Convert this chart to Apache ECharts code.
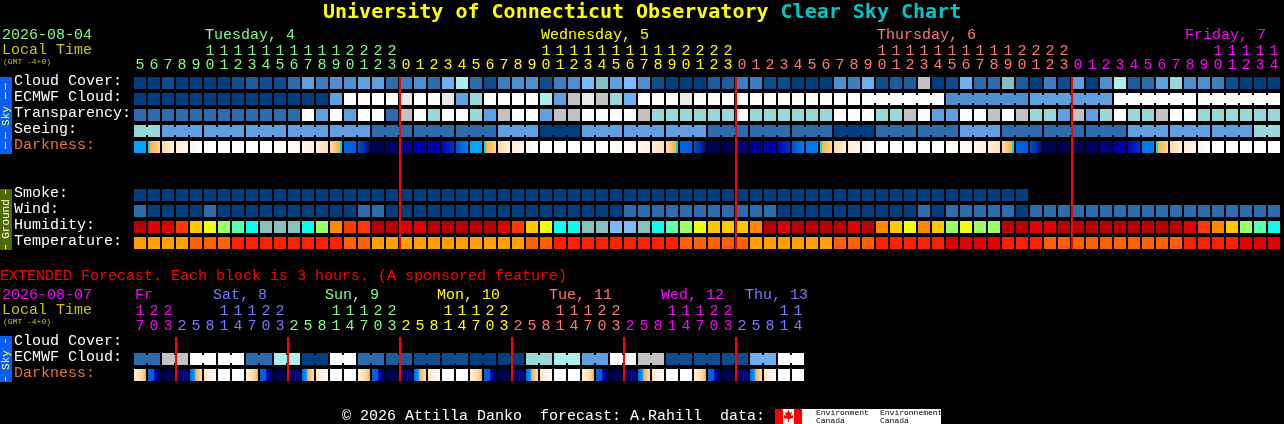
<!DOCTYPE html>
<html><head><meta charset="utf-8">
<style>html,body{margin:0;padding:0;background:#000}#c{width:1284px;height:424px}</style>
<script src="https://cdn.jsdelivr.net/npm/echarts@6/dist/echarts.min.js"></script>
</head><body><div id="c"></div>
<script>
const MONO='"Liberation Mono","DejaVu Sans Mono",monospace';
const TITLEFONT='"DejaVu Sans Mono","Liberation Mono",monospace';
// ---------- axis labels ----------
const rowNames=['Cloud Cover:','ECMWF Cloud:','Transparency:','Seeing:','Darkness:','','','Smoke:','Wind:','Humidity:','Temperature:'];
const extRowNames=['Cloud Cover:','ECMWF Cloud:','Darkness:'];
const hours=[5,6,7,8,9,10,11,12,13,14,15,16,17,18,19,20,21,22,23,0,1,2,3,4,5,6,7,8,9,10,11,12,13,14,15,16,17,18,19,20,21,22,23,0,1,2,3,4,5,6,7,8,9,10,11,12,13,14,15,16,17,18,19,20,21,22,23,0,1,2,3,4,5,6,7,8,9,10,11,12,13,14];
const extHours=[17,20,23,2,5,8,11,14,17,20,23,2,5,8,11,14,17,20,23,2,5,8,11,14,17,20,23,2,5,8,11,14,17,20,23,2,5,8,11,14,17,20,23,2,5,8,11,14];
const dayColors=['#80ff80','#ffff00','#ff7878','#ff00ff'];
const extDayColors=['#ff00ff','#7878ff','#80ff80','#ffff00','#ff7878','#ff00ff','#7878ff'];
// ---------- series values (indices into the scales below) ----------
const cloudCover=[0,0,1,0,0,0,0,1,2,1,1,3,6,4,5,5,6,6,3,4,5,3,7,11,3,1,4,5,5,1,4,5,8,9,6,8,5,1,0,0,0,2,2,4,4,1,1,0,0,0,5,4,7,1,2,2,12,0,1,7,3,3,9,2,0,4,1,6,0,5,11,2,3,6,10,5,5,4,1,0,0,0];
const ecmwfCloud=[0,0,0,0,0,0,0,0,0,0,0,0,0,0,6,14,14,14,14,13,14,14,13,6,10,14,14,14,14,11,6,12,13,12,10,7,14,14,14,13,14,14,14,14,14,14,14,14,14,14,14,14,14,14,14,14,14,14,5,5,5,5,5,5,6,6,6,6,6,6,14,14,14,14,14,14,14,14,14,14,14,14];
const transparency=[3,3,3,3,3,3,3,3,3,3,3,3,14,6,14,6,14,14,3,12,14,10,14,14,10,6,12,14,14,6,12,12,14,14,14,14,12,10,10,10,10,10,10,14,10,10,10,10,10,10,14,14,14,10,10,12,14,6,6,14,14,12,14,12,10,10,6,12,6,10,14,10,10,12,14,14,10,10,10,10,10,10];
const seeing=[10,10,6,6,6,6,6,6,6,6,6,6,6,6,6,6,6,3,3,3,3,3,3,3,3,3,6,6,6,0,0,0,6,6,6,6,6,6,6,6,6,3,3,3,3,3,3,3,3,3,0,0,0,3,3,3,3,3,3,6,6,6,3,3,3,3,3,3,3,3,3,6,6,6,6,6,6,6,6,6,10,10];
const darkness=[9,8,3,2,1,0,0,0,0,0,4,4,5,6,7,10,11,12,13,15,16,16,17,18,9,8,3,2,1,0,0,0,0,0,4,4,5,6,7,10,11,12,12,14,15,16,17,18,19,8,3,2,1,0,0,0,0,0,4,4,5,6,7,10,11,12,12,12,13,14,16,17,19,8,3,2,1,0,0,0,0,0];
const smoke=[0,0,0,0,0,0,0,0,0,0,0,0,0,0,0,0,0,0,0,0,0,0,0,0,0,0,0,0,0,0,0,0,0,0,0,0,0,0,0,0,0,0,0,0,0,0,0,0,0,0,0,0,0,0,0,0,0,0,0,0,0,0,0,0];
const wind=[3,0,0,0,0,3,0,0,0,0,0,0,0,0,0,0,3,3,0,0,0,0,0,0,0,0,0,0,0,0,0,0,0,0,0,3,3,3,3,3,3,3,3,3,3,3,0,0,0,0,0,0,0,0,0,0,3,0,3,3,3,3,3,0,3,3,3,3,3,3,3,3,3,3,3,3,3,3,3,3,3,3];
const humidity=[1,0,0,2,4,5,6,7,8,9,9,9,8,6,3,2,2,1,1,0,0,1,1,1,1,1,0,2,4,5,8,8,9,9,10,10,9,8,7,6,5,4,4,4,3,1,0,1,1,1,1,0,1,3,4,5,3,4,6,5,6,6,1,1,0,0,1,1,1,1,1,1,1,1,1,0,2,3,4,6,7,8];
const temperature=[0,0,0,0,1,1,1,2,2,2,2,2,2,2,2,1,1,0,0,0,0,0,0,0,0,0,0,0,1,1,2,2,2,2,2,2,2,2,2,1,1,1,1,1,0,0,0,0,0,0,1,1,1,2,2,2,2,2,3,3,3,3,2,2,2,1,1,1,1,1,1,1,1,1,1,2,2,2,2,3,3,3];
const extEcmwf=[3,3,12,12,14,14,14,14,3,3,11,11,0,0,14,14,3,3,2,2,1,1,1,1,0,0,0,0,10,10,11,11,6,6,14,14,12,12,1,1,1,1,1,1,7,7,14,14];
const extDarkness=[20,21,12,22,23,24,0,0,20,21,12,22,23,24,0,0,20,21,12,22,23,24,0,0,20,21,12,22,23,24,0,0,20,21,12,22,23,24,0,0,20,21,12,22,23,24,0,0];
const midnights=[19,43,67];
const extMidnights=[3,11,19,27,35,43];
// ---------- colour scales ----------
const cloudScale=['#003f7f','#0d4d8d','#1c5c9c','#2c6cac','#3e7ebe','#4f8fcf','#5f9fdf','#6fafef','#7abaff','#80c0c0','#99d8d8','#aeeeee','#c2c2c2','#e8e8e8','#ffffff'];
const humidityScale=['#e00000','#b80000','#ff3800','#ff8800','#ffc800','#eeff10','#9cff64','#5cffb0','#08ffee','#88c0c0','#80b8f8'];
const temperatureScale=['#ffa000','#ff6000','#ff2000','#e00000'];
const darkRamps=[
 [[0,'#ffffff']],[[0,'#fff6ee'],[1,'#ffffff']],[[0,'#ffecd8'],[1,'#fff6ee']],[[0,'#ffd8a0'],[1,'#fff0e0']],
 [[0,'#fffdfb'],[1,'#fff9f2']],[[0,'#fff9f2'],[1,'#fff0e2']],[[0,'#ffeedc'],[1,'#ffe0b8']],
 [[0,'#ffdca8'],[.82,'#ffb040'],[.84,'#00e0e0'],[1,'#00e0e0']],
 [[0,'#00e0e0'],[.14,'#00e0e0'],[.16,'#ffb040'],[1,'#ffd8a0']],
 [[0,'#00a4ff']],[[0,'#0060e0']],[[0,'#0050c8'],[1,'#000880']],[[0,'#000050']],[[0,'#000060']],[[0,'#000078']],
 [[0,'#000090']],[[0,'#0000a8']],[[0,'#0008b0'],[1,'#0030d0']],[[0,'#0050d0'],[1,'#0080f0']],[[0,'#0078f0']],
 [[0,'#fff0e0'],[.6,'#ffdca8'],[1,'#ffb040']],
 [[0,'#0060e0'],[.5,'#0060e0'],[.55,'#0000b0'],[1,'#000070']],
 [[0,'#000050'],[1,'#0000a0']],
 [[0,'#0070f0'],[.38,'#00a0ff'],[.42,'#00e0e0'],[.48,'#ffb040'],[1,'#ffe0b8']],
 [[0,'#ffe8cc'],[1,'#fff8f0']]
];
function fillOf(stops){
 if(stops.length===1) return stops[0][1];
 return new echarts.graphic.LinearGradient(0,0,1,0,stops.map(s=>({offset:s[0],color:s[1]})));
}
// ---------- series builders ----------
function cells(name,grid,row,values,scale,linked){
 return {type:'custom',name,xAxisIndex:grid?2:0,yAxisIndex:grid,silent:true,clip:false,animation:false,
  encode:{x:0,y:1},
  data:values.map((v,i)=>[i,row,v]),
  renderItem(p,api){
   const i=api.value(0),c=api.coord([i,api.value(1)]),s=api.size([1,1]);
   const w=s[0]*6/7,h=12,fill=scale(api.value(2));
   const kids=[{type:'rect',shape:{x:c[0]-w/2,y:c[1]-h/2,width:w,height:h},style:{fill}}];
   if(linked&&linked(i)) kids.push({type:'rect',shape:{x:c[0]+w/2,y:c[1]-4,width:s[0]-w,height:8},style:{fill}});
   return {type:'group',children:kids};
  }};
}
function redLines(grid,list,topRow,bottomRow){
 return {type:'custom',xAxisIndex:grid?2:0,yAxisIndex:grid,silent:true,clip:false,z:5,animation:false,
  encode:{x:0},data:list.map(i=>[i,topRow,bottomRow]),
  renderItem(p,api){
   const i=api.value(0),a=api.coord([i,api.value(1)]),b=api.coord([i,api.value(2)]),s=api.size([1,1]);
   return {type:'rect',shape:{x:a[0]-s[0]/2,y:a[1]-6,width:2,height:b[1]-a[1]+12},style:{fill:'#ff0000'}};
  }};
}
const cl=v=>cloudScale[v],dk=v=>fillOf(darkRamps[v]);
const seeingLinked=i=>i%3!==1&&i<81;
const ecmwfLinked=i=>i>=52&&(i-52)%6!==5;
const extLinked=i=>i%2===0;
// ---------- axes ----------
function runColor(list,palette){
 const out=[];let d=0;
 list.forEach((h,i)=>{if(i&&h<list[i-1])d++;out.push(palette[d]);});
 return out;
}
const hourColor=runColor(hours,dayColors),extHourColor=runColor(extHours,extDayColors);
const digitAxis=(grid,list,colors,offset,fmt)=>({type:'category',gridIndex:grid,position:'top',offset,data:list.map((h,i)=>i+'|'+h),
 axisLine:{show:false},axisTick:{show:false},splitLine:{show:false},
 axisLabel:{interval:0,margin:0,verticalAlign:'middle',hideOverlap:false,fontFamily:MONO,fontSize:15,
  color:(v,i)=>colors[i],formatter:(v)=>fmt(+v.split('|')[1])}});
const labelStyle={fontFamily:MONO,fontSize:15,padding:[0,0,4,0],height:15};
const rowAxis=(grid,names)=>({type:'category',gridIndex:grid,inverse:true,data:names,
 axisLine:{show:false},axisTick:{show:false},splitLine:{show:false},
 axisLabel:{interval:0,align:'left',margin:119,
  formatter:v=>v?(v==='Darkness:'?'{d|'+v+'}':'{w|'+v+'}'):'',
  rich:{w:Object.assign({color:'#ffffff'},labelStyle),d:Object.assign({color:'#e07830'},labelStyle)}}});
const txt=(x,y,text,fill,size,extra)=>({type:'text',x,y,silent:true,style:Object.assign({text,fill,font:(size||15)+'px '+MONO,verticalAlign:'middle',align:'left'},extra||{})});
const box=(x,y,w,h,fill)=>({type:'rect',silent:true,shape:{x,y,width:w,height:h},style:{fill}});
const vtxt=(cx,cy,text,fill)=>({type:'text',x:cx,y:cy,rotation:Math.PI/2,silent:true,style:{text,fill,font:'11px '+MONO,align:'center',verticalAlign:'middle'}});
const YL='#ffff40';
const graphics=[
 txt(2,35,'2026-08-04','#80ff80'),txt(2,50,'Local Time','#c8c800'),txt(3,62,'(GMT -4+0)','#c8c800',8),
 txt(205,35,'Tuesday, 4',dayColors[0]),txt(541,35,'Wednesday, 5',dayColors[1]),txt(877,35,'Thursday, 6',dayColors[2]),txt(1185,35,'Friday, 7',dayColors[3]),
 txt(0,276,'EXTENDED Forecast. Each block is 3 hours. (A sponsored feature)','#ff0000'),
 txt(2,295,'2026-08-07','#ff00ff'),txt(2,310,'Local Time','#c8c800'),txt(3,322,'(GMT -4+0)','#c8c800',8),
 txt(135,295,'Fr',extDayColors[0]),txt(213,295,'Sat, 8',extDayColors[1]),txt(325,295,'Sun, 9',extDayColors[2]),txt(437,295,'Mon, 10',extDayColors[3]),
 txt(549,295,'Tue, 11',extDayColors[4]),txt(661,295,'Wed, 12',extDayColors[5]),txt(745,295,'Thu, 13',extDayColors[6]),
 box(0,77,12,77,'#0a5ef0'),vtxt(6,116,'Sky',YL),box(5,83,1,7,YL),box(5,92,1,7,YL),box(5,132,1,7,YL),box(5,142,1,7,YL),
 box(0,189,12,61,'#4f6a00'),vtxt(6,219,'Ground','#ffffff'),box(5,190,1,4,'#ffffff'),box(5,245,1,4,'#ffffff'),
 box(0,336,12,46,'#0a5ef0'),vtxt(6,360,'Sky',YL),box(5,339,1,4,YL),box(5,377,1,4,YL),
 txt(342,416,'\u00a9 2026 Attilla Danko  forecast: A.Rahill  data:','#ffffff'),
 box(775,409,166,15,'#ffffff'),box(775,409,8,15,'#ff0000'),box(794,409,8,15,'#ff0000'),
 {type:'polygon',silent:true,shape:{points:[[788.5,410],[790,413],[792,412],[791,416],[793,415],[793,418],[789,419],[789,422],[788,422],[788,419],[784,418],[784,415],[786,416],[785,412],[787,413]]},style:{fill:'#ff0000'}},
 txt(816,413,'Environment','#000000',8),txt(816,421,'Canada','#000000',8),
 txt(880,413,'Environnement','#000000',8),txt(880,421,'Canada','#000000',8)
];
const chart=echarts.init(document.getElementById('c'),null,{renderer:'canvas',devicePixelRatio:1});
chart.setOption({
 backgroundColor:'#000000',animation:false,tooltip:{show:false},
 title:{left:323,top:1,padding:0,text:'{a|University of Connecticut Observatory }{b|Clear Sky Chart}',
  textStyle:{rich:{a:{color:'#ffff00',fontFamily:TITLEFONT,fontWeight:'bold',fontSize:20,height:24},b:{color:'#00c8c8',fontFamily:TITLEFONT,fontWeight:'bold',fontSize:20,height:24}}}},
 grid:[{left:133,top:75,width:1148,height:176},{left:133,top:335,width:672,height:48}],
 xAxis:[
  digitAxis(0,hours,hourColor,10,h=>String(h%10)),
  digitAxis(0,hours,hourColor,24,h=>h>=10?String(Math.floor(h/10)):''),
  digitAxis(1,extHours,extHourColor,9,h=>String(h%10)),
  digitAxis(1,extHours,extHourColor,24,h=>h>=10?String(Math.floor(h/10)):'')
 ],
 yAxis:[rowAxis(0,rowNames),rowAxis(1,extRowNames)],
 series:[
  cells('Cloud Cover',0,0,cloudCover,cl),
  cells('ECMWF Cloud',0,1,ecmwfCloud,cl,ecmwfLinked),
  cells('Transparency',0,2,transparency,cl),
  cells('Seeing',0,3,seeing,cl,seeingLinked),
  cells('Darkness',0,4,darkness,dk),
  cells('Smoke',0,7,smoke,cl),
  cells('Wind',0,8,wind,cl),
  cells('Humidity',0,9,humidity,v=>humidityScale[v]),
  cells('Temperature',0,10,temperature,v=>temperatureScale[v]),
  redLines(0,midnights,0,10),
  cells('Ext ECMWF Cloud',1,1,extEcmwf,cl,extLinked),
  cells('Ext Darkness',1,2,extDarkness,dk),
  redLines(1,extMidnights,0,2)
 ],
 graphic:{elements:graphics}
});
</script></body></html>
